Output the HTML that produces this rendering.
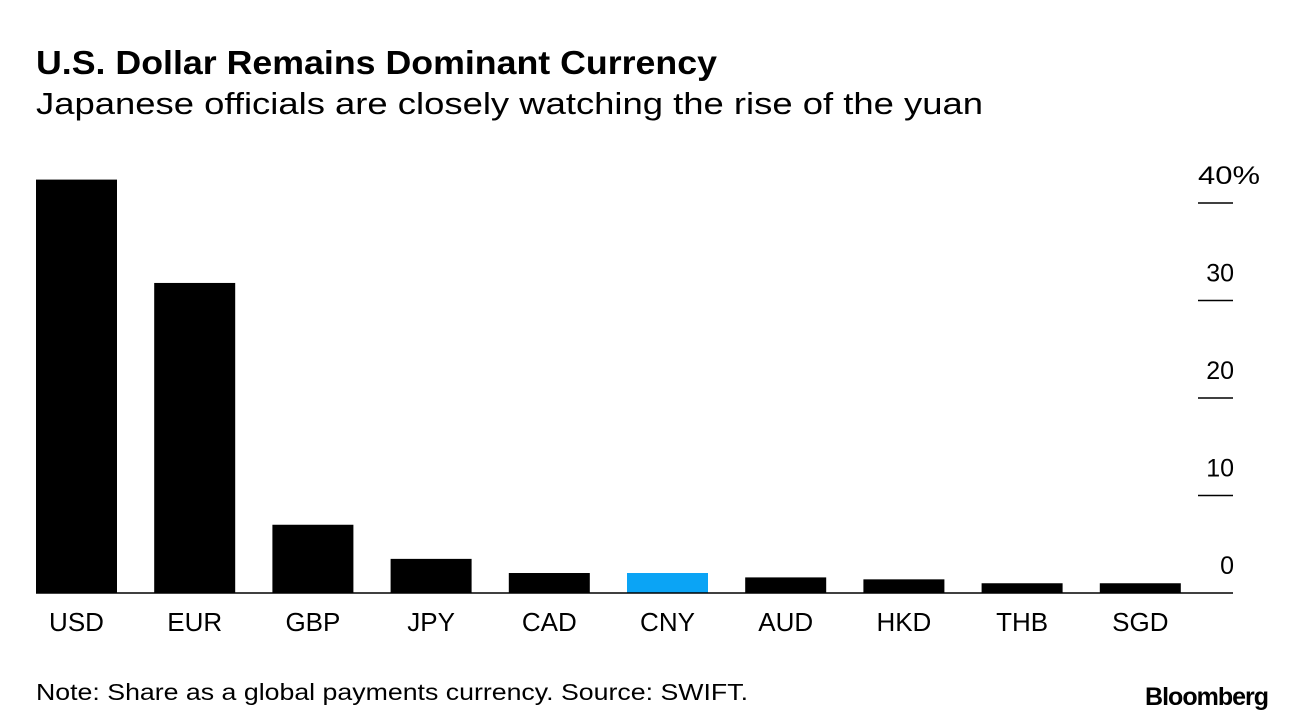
<!DOCTYPE html>
<html><head><meta charset="utf-8"><style>
body{margin:0;width:1296px;height:722px;background:#fff;overflow:hidden;font-family:"Liberation Sans",sans-serif;}
</style></head><body>
<svg width="1296" height="722" style="position:absolute;left:0;top:0">
<text x="36" y="74" font-size="33" font-weight="bold" fill="#000" textLength="681" lengthAdjust="spacingAndGlyphs">U.S. Dollar Remains Dominant Currency</text>
<text x="36" y="114" font-size="31" fill="#000" textLength="947" lengthAdjust="spacingAndGlyphs">Japanese officials are closely watching the rise of the yuan</text>
<g id="plot"></g>
<text x="36" y="700" font-size="23" fill="#000" textLength="712" lengthAdjust="spacingAndGlyphs">Note: Share as a global payments currency. Source: SWIFT.</text>
<text x="1268" y="705" font-size="25" font-weight="bold" text-anchor="end" letter-spacing="-1" fill="#000">Bloomberg</text>
</svg>
<script>
const categories=["USD","EUR","GBP","JPY","CAD","CNY","AUD","HKD","THB","SGD"];
const values=[42.4,31.8,7.0,3.5,2.05,2.05,1.6,1.4,1.0,1.0];
const highlight=["CNY"];
const ticks=[0,10,20,30,40];
const tickLabels=["0","10","20","30","40%"];
const NS="http://www.w3.org/2000/svg";
const g=document.getElementById('plot');
const y0=593,pxPer=9.75;
function y(v){return y0-v*pxPer;}
function x(i){return 36+i*118.2;}
const bw=81;
function mk(t,a){const e=document.createElementNS(NS,t);for(const k in a)e.setAttribute(k,a[k]);g.appendChild(e);return e;}
categories.forEach((c,i)=>{
  const r=mk('rect',{x:x(i),y:y(values[i]),width:bw,height:y0-y(values[i]),fill:highlight.includes(c)?'#0ba4f5':'#000'});
  
  
  const t=mk('text',{x:x(i)+bw/2,y:631,'font-size':26,'text-anchor':'middle',fill:'#000'});
  t.textContent=c;
  
  
});
const base=mk('line',{x1:36,x2:1233,y1:y0,y2:y0,stroke:'#000','stroke-width':1.5});


ticks.forEach((v,i)=>{
  if(v>0){const l=mk('line',{x1:1198,x2:1233,y1:y(v),y2:y(v),stroke:'#000','stroke-width':1.5});
  
  }
  const t=mk('text',{x:1234,y:y(v)-19,'font-size':25,'text-anchor':'end',fill:'#000'});
  if(v===40){t.setAttribute('x',1198);t.setAttribute('text-anchor','start');t.setAttribute('textLength',62);t.setAttribute('lengthAdjust','spacingAndGlyphs');}
  t.textContent=tickLabels[i];
  
  
});
</script>
</body></html>
